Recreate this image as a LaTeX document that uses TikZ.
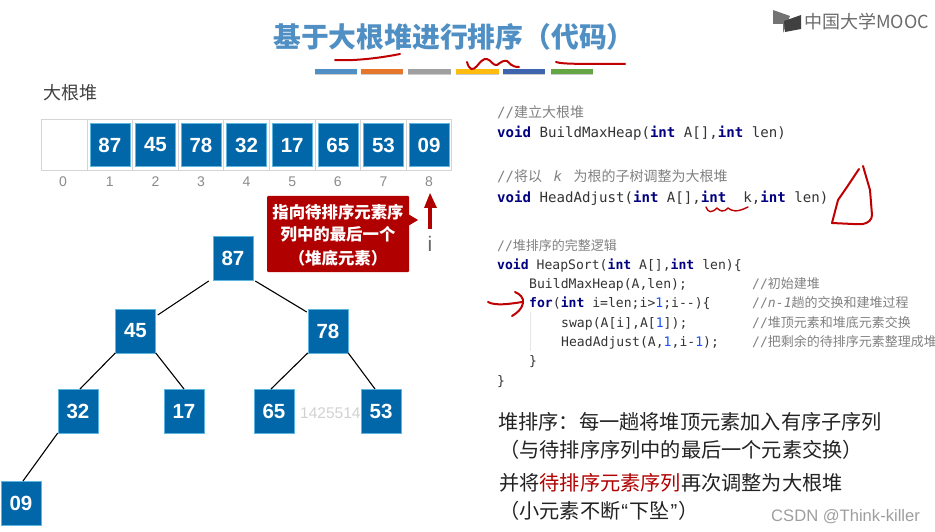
\documentclass[tikz,border=0pt]{standalone}
\usepackage{fontspec}
\setmainfont{Liberation Sans}
\newfontfamily\cjk{Noto Sans CJK SC}
\newfontfamily\cod{DejaVu Sans Mono}
\usetikzlibrary{calc}
\definecolor{heapblue}{HTML}{0167A9}
\definecolor{edgeblue}{HTML}{5DB5E0}
\definecolor{slotgray}{HTML}{D4D4D4}
\definecolor{idxgray}{HTML}{8A8A8A}
\definecolor{calloutred}{HTML}{B00000}
\definecolor{inkred}{HTML}{C00000}
\definecolor{titleblue}{HTML}{4F8FC4}
\definecolor{kwnavy}{HTML}{000080}
\definecolor{numblue}{HTML}{1750EB}
\definecolor{cmtgray}{HTML}{808080}
\definecolor{codeink}{HTML}{333333}
\definecolor{bodyink}{HTML}{222222}
\newcommand{\fs}[1]{\fontsize{#1}{#1}\selectfont}
\newcommand{\kw}[1]{{\color{kwnavy}\bfseries #1}}
\newcommand{\nm}[1]{{\color{numblue}#1}}
\newcommand{\cz}[1]{{\cjk\fs{14}#1}}
\newcommand{\czs}[1]{{\cjk\fs{13}#1}}
\tikzset{
  x=1pt,y=-1pt,
  heapbox/.style={draw=edgeblue,line width=.5pt,fill=heapblue,text=white,minimum width=40pt,minimum height=43.5pt,inner sep=0pt,font=\bfseries\fs{20.5}},
  slotbox/.style={draw=slotgray,line width=.8pt,fill=white,minimum height=51pt,inner sep=0pt},
  idxlabel/.style={text=idxgray,inner sep=0pt,font=\fs{14}},
  treeedge/.style={draw=black,line width=1.1pt},
  codeline/.style={anchor=base west,inner sep=0pt,text=codeink,font=\cod\fs{14.1}},
  codesmall/.style={codeline,font=\cod\fs{13.1}},
  cmtline/.style={codeline,text=cmtgray},
  cmtsmall/.style={codesmall,text=cmtgray},
  bodytext/.style={anchor=base west,inner sep=0pt,text=bodyink,font=\cjk\fs{20.2}},
  ink/.style={draw=inkred,line width=2pt,line cap=round,line join=round},
  colorbar/.style={minimum width=42.5pt,minimum height=5pt,inner sep=0pt},
}
\begin{document}
\begin{tikzpicture}
\useasboundingbox (0,0) rectangle (935,532);
\begin{scope}
\clip (0,0) rectangle (935,532);
% title
\node[anchor=base west,inner sep=0pt,text=titleblue,font=\cjk\bfseries\fs{27.8}] (title) at (273,48) {基于大根堆进行排序（代码）};
% colour bars
\foreach \n/\cx/\c in {a/336/4F8FC4,b/382/E5762C,c/429.5/A0A0A0,d/477.5/FFBC0F,e/524/3F64AE,f/572/65A644}{
  \definecolor{barc}{HTML}{\c}
  \fill[black!20] (\cx-21.2,70) rectangle (\cx+21.2,75.5);
  \node[colorbar,fill=barc] (bar\n) at (\cx,71.5) {};
}
% logo
\fill[black!55] (773,10) -- (790,16) -- (783,33) -- (783,24) -- (773,24) -- cycle;
\fill[black!75] (784,21) -- (801,15) -- (801,29) -- (785,32) -- cycle;
\node[anchor=base west,inner sep=0pt,text=black!58,font=\cjk\fs{18}] (logo) at (804,29) {中国大学MOOC};
% array
\node[anchor=base west,inner sep=0pt,text=black!75,font=\cjk\fs{18}] (arrlabel) at (43,100) {大根堆};
\node[slotbox,minimum width=46pt] (slot0) at (64,144.5) {};
\foreach \k/\v in {1/87,2/45,3/78,4/32,5/17,6/65,7/53,8/09}{
  \pgfmathsetmacro{\cx}{109.8+45.6*(\k-1)}
  \node[slotbox,minimum width=45.6pt] (slot\k) at (\cx,144.5) {};
  \node[heapbox] (cell\k) at (\cx,145) {\v};
  \node[idxlabel] (idx\k) at (\cx,182) {\k};
}
\node[idxlabel] (idx0) at (63,182) {0};
% callout
\fill[calloutred,rounded corners=1pt] (267,196) rectangle (409,272);
\fill[calloutred] (408,214) -- (418,220) -- (408,226) -- cycle;
\node[anchor=center,align=center,inner sep=0pt,text=white,font=\cjk\bfseries\fs{16.4}] (callout) at (338,234)
  {\rule{0pt}{16pt}指向待排序元素序\\[6pt]列中的最后一个\\[7pt]（堆底元素）};
% i pointer
\coordinate (ptail) at (430,229);
\coordinate (phead) at (430,193);
\draw[draw=calloutred,line width=4pt] (ptail) -- (430,207);
\fill[calloutred] (phead) -- (437,208) -- (424,208) -- cycle;
\node[inner sep=0pt,text=black!60,font=\fs{21}] (ilabel) at (430,244) {i};
% watermark in the tree
\node[anchor=base west,inner sep=0pt,text=black!18,font=\fs{15.5}] (wm) at (300,418) {14255142};
% tree
\node[heapbox] (n87) at (233,258) {87};
\node[heapbox] (n45) at (135.5,331) {45};
\node[heapbox] (n78) at (328,331) {78};
\node[heapbox] (n32) at (78,411) {32};
\node[heapbox] (n17) at (184,411) {17};
\node[heapbox] (n65) at (274,411) {65};
\node[heapbox] (n53) at (381,411) {53};
\node[heapbox] (n09) at (21,503) {09};
\draw[treeedge] ([xshift=-4pt,yshift=-1pt]n87.south west) -- ([xshift=2pt,yshift=-6pt]n45.north east);
\draw[treeedge] ([xshift=2pt,yshift=-1pt]n87.south east) -- ([xshift=-1pt,yshift=-3pt]n78.north west);
\draw[treeedge] (n45.south west) -- ([xshift=2pt]n32.north);
\draw[treeedge] (n45.south east) -- (n17.north);
\draw[treeedge] (n78.south west) -- ([xshift=-3pt]n65.north);
\draw[treeedge] (n78.south east) -- ([xshift=-6pt]n53.north);
\draw[treeedge] (n32.south west) -- ([xshift=2pt]n09.north);
% code
\node[cmtline] (c1) at (497,118) {//\cz{建立大根堆}};
\node[codeline] (c2) at (497,138) {\kw{void} BuildMaxHeap(\kw{int} A[],\kw{int} len)};
\node[cmtline] (c3) at (497,182) {//\cz{将以}\hspace{3pt} \textit{k} \hspace{3pt}\cz{为根的子树调整为大根堆}};
\node[codeline] (c4) at (497,203) {\kw{void} HeadAdjust(\kw{int} A[],\kw{int}\ \ k,\kw{int} len)};
\node[cmtsmall] (c5) at (497,250.5) {//\czs{堆排序的完整逻辑}};
\node[codesmall] (c6) at (497,269) {\kw{void} HeapSort(\kw{int} A[],\kw{int} len)\{};
\node[codesmall] (c7) at (529,288) {BuildMaxHeap(A,len);};
\node[codesmall] (c8) at (529,307.5) {\kw{for}(\kw{int} i=len;i>\nm{1};i-{}-)\{};
\node[codesmall] (c9) at (561,327) {swap(A[i],A[\nm{1}]);};
\node[codesmall] (c10) at (561,346.5) {HeadAdjust(A,\nm{1},i-\nm{1});};
\node[codesmall] (c11) at (529,365.5) {\}};
\node[codesmall] (c12) at (497,385) {\}};
\node[cmtsmall] (m7) at (752,288) {//\czs{初始建堆}};
\node[cmtsmall] (m8) at (752,307.5) {//\textit{n-1}\czs{趟的交换和建堆过程}};
\node[cmtsmall] (m9) at (752,327) {//\czs{堆顶元素和堆底元素交换}};
\node[cmtsmall] (m10) at (752,346.5) {//\czs{把剩余的待排序元素整理成堆}};
\draw[draw=black!10,line width=.6pt] (530,312) -- (530,351);
% body text
\node[bodytext] (b1) at (498,429) {堆排序：每一趟将堆顶元素加入有序子序列};
\node[bodytext] (b2) at (499,457) {（与待排序序列中的最后一个元素交换）};
\node[bodytext] (b3) at (499,490) {并将{\color{calloutred}待排序元素序列}再次调整为大根堆};
\node[bodytext] (b4) at (499,518) {（小元素不断{\rmfamily\kern1pt“\kern1pt}下坠{\rmfamily\kern1pt”\kern1pt}）};
\node[anchor=base west,inner sep=0pt,text=black!38,font=\fs{16.6}] (csdn) at (771,521) {CSDN @Think-killer};
% ink
\draw[ink] (335,60) .. controls (350,61) and (375,59) .. (400,54);
\draw[ink] (467,62) .. controls (469,70) and (473,71) .. (477,66) .. controls (480,62) and (484,58) .. (487,59) .. controls (491,60) and (493,66) .. (497,65) .. controls (501,62) and (504,60) .. (507,61) .. controls (510,63) and (511,67) .. (519,67);
\draw[ink] (556,62) .. controls (562,64) and (575,64) .. (625,64);
\draw[ink] (859,169) -- (847,187) -- (838,200) -- (832,223) -- (853,224) -- (863,224) .. controls (868,223) and (872,220) .. (872,215) -- (870,190) -- (863,166);
\draw[ink,line width=1.4pt] (706,207) .. controls (708,213) and (712,213) .. (717,208) .. controls (720,211) and (723,213) .. (728,208) .. controls (732,211) and (736,213) .. (748,207);
\draw[ink] (488,302) .. controls (495,306) and (510,304) .. (522,302);
\draw[ink] (515,292) .. controls (520,294) and (524,298) .. (523,303) .. controls (522,309) and (517,313) .. (512,316);
\end{scope}
\end{tikzpicture}
\end{document}
